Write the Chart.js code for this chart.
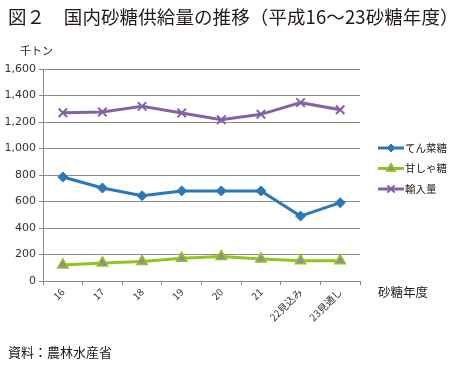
<!DOCTYPE html>
<html>
<head>
<meta charset="utf-8">
<script src="https://cdn.jsdelivr.net/npm/chart.js@4.4.0/dist/chart.umd.min.js"></script>
<style>
  body { margin: 0; background: #fff; font-family: "Noto Sans CJK JP", sans-serif; }
  #wrap { position: relative; width: 455px; height: 368px; overflow: hidden; }
  #title { position: absolute; left: 8px; top: 3px; font-size: 18.5px; color: #231815; white-space: nowrap; letter-spacing: 0.1px; }
  #unit { position: absolute; left: 20px; top: 42px; font-size: 11px; color: #231815; }
  #xname { position: absolute; left: 378px; top: 282px; font-size: 12.5px; color: #231815; }
  #source { position: absolute; left: 8px; top: 342px; font-size: 13px; color: #231815; }
  #chartBox { position: absolute; left: 0; top: 0; width: 455px; height: 368px; }
</style>
</head>
<body>
<div id="wrap">
  <div id="chartBox"><canvas id="c" width="455" height="368"></canvas></div>
  <div id="title">図２　国内砂糖供給量の推移（平成16～23砂糖年度）</div>
  <div id="unit">千トン</div>
  <div id="xname">砂糖年度</div>
  <div id="source">資料：農林水産省</div>
</div>
<script>
// ===============================
// DATA
// ===============================
const years = ["16", "17", "18", "19", "20", "21", "22見込み", "23見通し"];
const tensai = [785, 702, 644, 680, 680, 680, 490, 591];     // てん菜糖
const kanshaka = [121, 136, 148, 171, 184, 166, 153, 153];  // 甘しゃ糖
const yunyu = [1270, 1275, 1318, 1268, 1217, 1258, 1346, 1293]; // 輸入量
const seriesNames = ["てん菜糖", "甘しゃ糖", "輸入量"];
const yTicks = [0, 200, 400, 600, 800, 1000, 1200, 1400, 1600];

const colors = ["#2a78b7", "#92c31f", "#8462a6"];

// legend drawn on the right, line + marker
const sideLegend = {
  id: "sideLegend",
  afterDraw(chart) {
    const ctx = chart.ctx;
    chart.data.datasets.forEach((ds, i) => {
      const y = 148 + i * 20.5;
      ctx.save();
      ctx.strokeStyle = ds.borderColor;
      ctx.lineWidth = 3;
      ctx.beginPath();
      ctx.moveTo(378, y);
      ctx.lineTo(404, y);
      ctx.stroke();
      ctx.fillStyle = ds.pointBackgroundColor;
      ctx.strokeStyle = ds.pointBorderColor;
      ctx.lineWidth = ds.pointBorderWidth;
      Chart.helpers.drawPoint(ctx, {
        pointStyle: ds.pointStyle,
        radius: ds.pointRadius - 1,
        borderWidth: ds.pointBorderWidth
      }, 391, y);
      ctx.restore();
      ctx.save();
      ctx.fillStyle = "#231815";
      ctx.font = "10.5px 'Noto Sans CJK JP'";
      ctx.textBaseline = "middle";
      ctx.fillText(ds.label, 405, y);
      ctx.restore();
    });
  }
};

new Chart(document.getElementById("c"), {
  type: "line",
  data: {
    labels: years,
    datasets: [
      {
        label: seriesNames[0], data: tensai,
        borderColor: colors[0], borderWidth: 3,
        pointStyle: "rectRot", pointRadius: 5,
        pointBackgroundColor: colors[0], pointBorderColor: colors[0], pointBorderWidth: 1
      },
      {
        label: seriesNames[1], data: kanshaka,
        borderColor: colors[1], borderWidth: 3,
        pointStyle: "triangle", pointRadius: 6,
        pointBackgroundColor: "#8f8f8f", pointBorderColor: colors[1], pointBorderWidth: 1.5
      },
      {
        label: seriesNames[2], data: yunyu,
        borderColor: colors[2], borderWidth: 3,
        pointStyle: "crossRot", pointRadius: 6,
        pointBackgroundColor: colors[2], pointBorderColor: colors[2], pointBorderWidth: 2
      }
    ]
  },
  options: {
    responsive: false,
    animation: false,
    devicePixelRatio: 1,
    layout: { padding: { left: 0, right: 95, top: 69, bottom: 0 } },
    plugins: { legend: { display: false }, tooltip: { enabled: false } },
    elements: { line: { tension: 0 } },
    scales: {
      x: {
        offset: true,
        afterFit(axis) { axis.height = 87; },
        border: { color: "#888", width: 1 },
        grid: { offset: true, drawOnChartArea: false, drawTicks: true, tickLength: 4, color: "#888" },
        ticks: {
          color: "#333", font: { size: 10, family: "'Noto Sans CJK JP'" },
          minRotation: 45, maxRotation: 45, padding: 1
        }
      },
      y: {
        min: 0, max: 1600,
        afterFit(axis) { axis.width = 43; },
        afterBuildTicks(axis) { axis.ticks = yTicks.map(v => ({ value: v })); },
        border: { color: "#888", width: 1 },
        grid: { color: "#8a8a8a", tickLength: 4 },
        ticks: {
          color: "#333", font: { size: 11, family: "'DejaVu Sans'" }, padding: 3,
          callback: v => v.toLocaleString("en-US")
        }
      }
    }
  },
  plugins: [sideLegend]
});
</script>
</body>
</html>
